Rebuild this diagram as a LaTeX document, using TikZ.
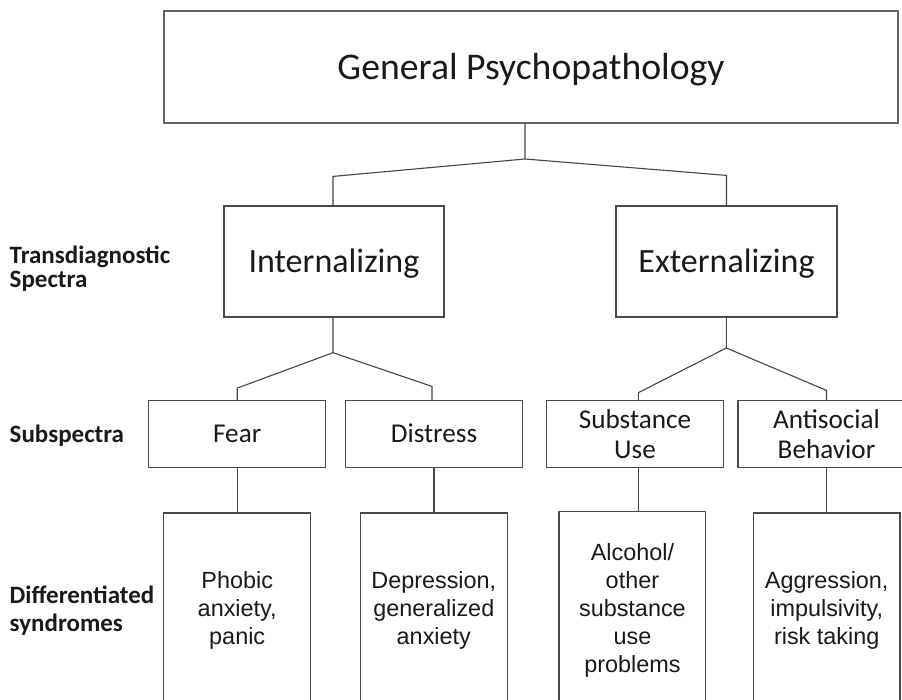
\documentclass[tikz,border=0pt]{standalone}
\usepackage{fontspec}
\setmainfont{Carlito}
\newfontfamily\arialf{Liberation Sans}
\definecolor{boxc}{HTML}{4A4A4A}
\definecolor{topc}{HTML}{666666}
\definecolor{linec}{HTML}{454545}
\definecolor{txtc}{HTML}{1A1A1A}
\begin{document}
\begin{tikzpicture}[x=1pt,y=-1pt,
  box/.style={draw=boxc, line width=1.2pt, inner sep=0pt, align=center, text=txtc},
  conn/.style={draw=linec, line width=1.1pt, line join=miter},
  subsp/.style={box, minimum width=177pt, minimum height=67pt, font=\fontsize{27.2}{29.5}\selectfont},
  synd/.style={box, minimum width=147pt, minimum height=194pt, font=\arialf\fontsize{23.4}{28}\selectfont},
  lab/.style={inner sep=0pt, anchor=west, align=left, text=txtc}]
\useasboundingbox (0,0) rectangle (902,699);
\clip (0,0) rectangle (902,699);

% top level
\node[box, line width=1.6pt, draw=topc, minimum width=734pt, minimum height=112pt,
      text height=24.3pt, text depth=0pt, font=\fontsize{37.7}{45}\selectfont]
      (gp) at (531,67) {General Psychopathology};

% spectra
\node[box, minimum width=220pt, minimum height=111pt, text height=21.9pt, text depth=0pt,
      font=\fontsize{34}{40}\selectfont] (int) at (334,261.5) {Internalizing};
\node[box, minimum width=221pt, minimum height=111pt, text height=21.9pt, text depth=0pt,
      font=\fontsize{34}{40}\selectfont] (ext) at (726.5,261.5) {Externalizing};

% subspectra
\node[subsp, text height=17.5pt, text depth=0pt] (fear) at (237.2,434.2) {Fear};
\node[subsp, text height=17.5pt, text depth=0pt] (dis) at (434,434.2) {Distress};
\node[subsp] (sub) at (635,434.2) {Substance\\Use};
\node[subsp] (anti) at (826.5,434.2) {Antisocial\\Behavior};

% syndromes
\node[synd] (phob) at (237.2,610) {Phobic\\anxiety,\\panic};
\node[synd] (dep) at (433.8,610) {Depression,\\generalized\\anxiety};
\node[synd, minimum width=146.7pt, minimum height=196.6pt] (alc) at (632.4,610) {Alcohol/\\other\\substance\\use\\problems};
\node[synd, minimum width=146.7pt] (agg) at (826.7,610) {Aggression,\\impulsivity,\\risk taking};

% row labels
\node[lab, font=\bfseries\fontsize{25}{24.6}\selectfont] (lt) at (9.5,268.7) {Transdiagnostic\\Spectra};
\node[lab, text height=16.1pt, text depth=0pt, font=\bfseries\fontsize{25}{30}\selectfont] (ls) at (9.5,434.7) {Subspectra};
\node[lab, font=\bfseries\fontsize{25}{28.3}\selectfont] (ld) at (9.5,610.6) {Differentiated\\syndromes};

% connectors
\coordinate (j0) at (525,159);
\draw[conn] (gp.south -| j0) -- (j0) -- ([xshift=-1pt,yshift=29pt]int.north) -- ([xshift=-1pt]int.north);
\draw[conn] (j0) -- ([yshift=30pt]ext.north) -- (ext.north);

\coordinate (j1) at (333,352.7);
\draw[conn] (int.south -| j1) -- (j1) -- ([yshift=12pt]fear.north) -- (fear.north);
\draw[conn] (j1) -- ([xshift=-2pt,yshift=13.7pt]dis.north) -- ([xshift=-2pt]dis.north);

\coordinate (j2) at (726.3,348);
\draw[conn] (ext.south -| j2) -- (j2) -- ([xshift=3.3pt,yshift=7.4pt]sub.north) -- ([xshift=3.3pt]sub.north);
\draw[conn] (j2) -- ([yshift=9.7pt]anti.north) -- (anti.north);

\draw[conn] (fear.south) -- (fear.south |- phob.north);
\draw[conn] (dis.south) -- (dis.south |- dep.north);
\draw[conn] ([xshift=3.5pt]sub.south) -- ([xshift=3.5pt]sub.south |- alc.north);
\draw[conn] (anti.south) -- (anti.south |- agg.north);
\end{tikzpicture}
\end{document}
